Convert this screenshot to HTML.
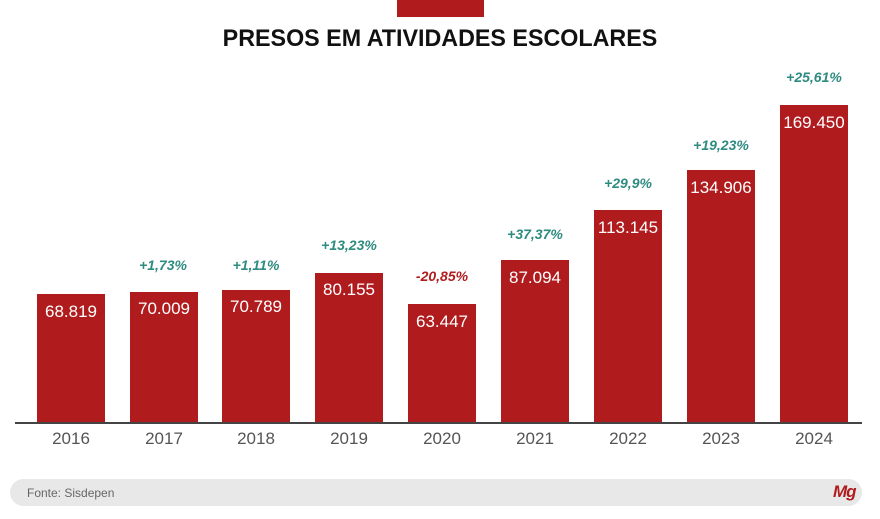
<!DOCTYPE html>
<html><head><meta charset="utf-8"><style>
body{margin:0;width:880px;height:519px;background:#fff;position:relative;overflow:hidden;font-family:"Liberation Sans",Arial,sans-serif}
.a{position:absolute}
.bar{position:absolute;background:#b01c1e;width:68px}
.v{position:absolute;width:68px;text-align:center;color:#fff;font-size:17px}
.p{position:absolute;width:90px;text-align:center;font-size:14px;font-weight:bold;font-style:italic;color:#2e8b80}
.y{position:absolute;width:68px;text-align:center;font-size:17px;color:#555;top:429px}
</style></head><body>
<div class="a" style="left:397px;top:0;width:87px;height:17px;background:#b01c1e"></div>
<div class="a" style="left:0;width:880px;top:25px;text-align:center;font-size:24px;font-weight:bold;color:#111;transform:scaleX(0.97)">PRESOS EM ATIVIDADES ESCOLARES</div>

<div class="bar" style="left:37px;top:294px;height:129px"></div>
<div class="bar" style="left:130px;top:292px;height:131px"></div>
<div class="bar" style="left:222px;top:290px;height:133px"></div>
<div class="bar" style="left:315px;top:273px;height:150px"></div>
<div class="bar" style="left:408px;top:304px;height:119px"></div>
<div class="bar" style="left:501px;top:260px;height:163px"></div>
<div class="bar" style="left:594px;top:210px;height:213px"></div>
<div class="bar" style="left:687px;top:170px;height:253px"></div>
<div class="bar" style="left:780px;top:105px;height:318px"></div>

<div class="v" style="left:37px;top:302px">68.819</div>
<div class="v" style="left:130px;top:299px">70.009</div>
<div class="v" style="left:222px;top:297px">70.789</div>
<div class="v" style="left:315px;top:280px">80.155</div>
<div class="v" style="left:408px;top:312px">63.447</div>
<div class="v" style="left:501px;top:268px">87.094</div>
<div class="v" style="left:594px;top:218px">113.145</div>
<div class="v" style="left:687px;top:178px">134.906</div>
<div class="v" style="left:780px;top:113px">169.450</div>

<div class="p" style="left:118px;top:257px">+1,73%</div>
<div class="p" style="left:211px;top:257px">+1,11%</div>
<div class="p" style="left:304px;top:237px">+13,23%</div>
<div class="p" style="left:397px;top:268px;color:#b01c1e">-20,85%</div>
<div class="p" style="left:490px;top:226px">+37,37%</div>
<div class="p" style="left:583px;top:175px">+29,9%</div>
<div class="p" style="left:676px;top:137px">+19,23%</div>
<div class="p" style="left:769px;top:69px">+25,61%</div>

<div class="a" style="left:15px;top:422px;width:847px;height:2px;background:#444"></div>
<div class="y" style="left:37px">2016</div>
<div class="y" style="left:130px">2017</div>
<div class="y" style="left:222px">2018</div>
<div class="y" style="left:315px">2019</div>
<div class="y" style="left:408px">2020</div>
<div class="y" style="left:501px">2021</div>
<div class="y" style="left:594px">2022</div>
<div class="y" style="left:687px">2023</div>
<div class="y" style="left:780px">2024</div>

<div class="a" style="left:10px;top:479px;width:852px;height:27px;background:#e8e8e8;border-radius:14px"></div>
<div class="a" style="left:27px;top:486px;font-size:12px;color:#666">Fonte: Sisdepen</div>
<div class="a" style="left:833px;top:482px;font-size:17px;font-weight:bold;font-style:italic;color:#b01c1e;letter-spacing:-1px">Mg</div>
</body></html>
